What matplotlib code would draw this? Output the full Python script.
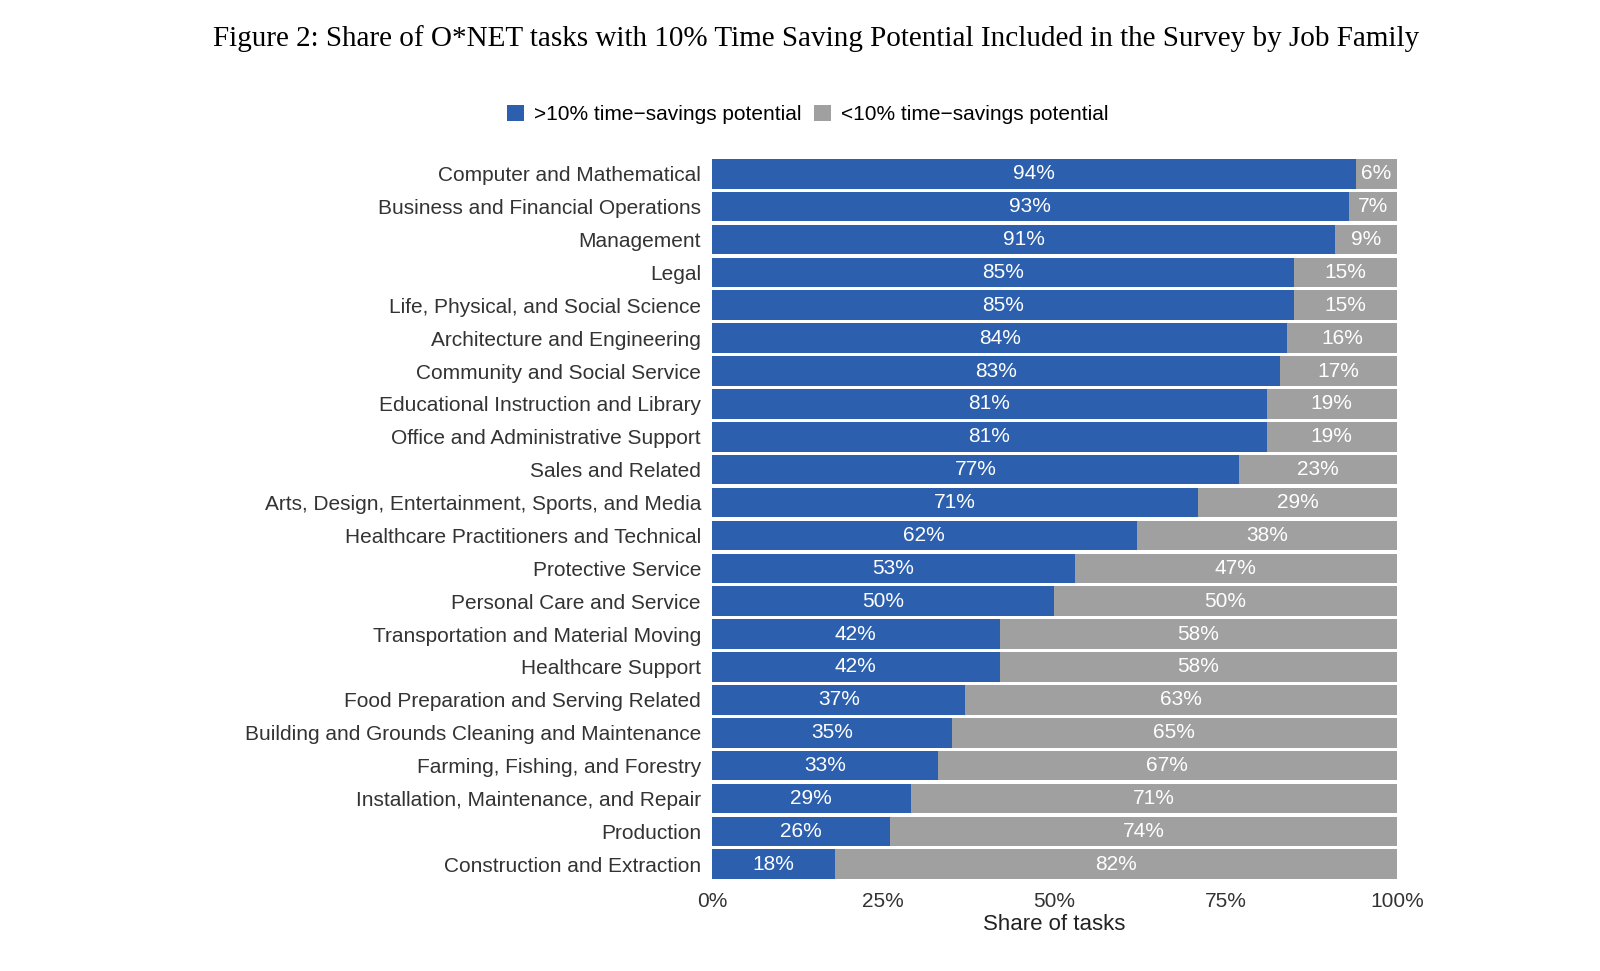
import matplotlib
matplotlib.use("Agg")
import matplotlib.pyplot as plt

categories = ["Computer and Mathematical","Business and Financial Operations","Management","Legal",
"Life, Physical, and Social Science","Architecture and Engineering","Community and Social Service",
"Educational Instruction and Library","Office and Administrative Support","Sales and Related",
"Arts, Design, Entertainment, Sports, and Media","Healthcare Practitioners and Technical",
"Protective Service","Personal Care and Service","Transportation and Material Moving",
"Healthcare Support","Food Preparation and Serving Related","Building and Grounds Cleaning and Maintenance",
"Farming, Fishing, and Forestry","Installation, Maintenance, and Repair","Production","Construction and Extraction"]
high = [94,93,91,85,85,84,83,81,81,77,71,62,53,50,42,42,37,35,33,29,26,18]
low = [100-v for v in high]
xticks = [0,25,50,75,100]
xticklabels = ["0%","25%","50%","75%","100%"]

plt.rcParams['font.family'] = ['Liberation Sans','DejaVu Sans']
fig = plt.figure(figsize=(16,9.71), dpi=100)
ax = fig.add_axes([0.445,0.093,0.428,0.745])
blue = "#2c5fad"; grey = "#a0a0a0"
y = list(range(len(categories)))
ax.barh(y, high, height=0.9, color=blue, label=">10% time\u2212savings potential")
ax.barh(y, low, left=high, height=0.9, color=grey, label="<10% time\u2212savings potential")
for i,(h,l) in enumerate(zip(high,low)):
    ax.text(h/2, i, f"{h}%", color="white", ha="center", va="center", fontsize=15)
    ax.text(h+l/2, i, f"{l}%", color="white", ha="center", va="center", fontsize=15)
ax.set_ylim(len(categories)-0.5, -0.5)
ax.set_xlim(0,100)
ax.set_yticks(y); ax.set_yticklabels(categories, fontsize=15, color="#333333")
ax.set_xticks(xticks); ax.set_xticklabels(xticklabels, fontsize=15, color="#333333")
ax.tick_params(length=0, pad=8)
for s in ax.spines.values(): s.set_visible(False)
ax.set_xlabel("Share of tasks", fontsize=16, color="#222222", labelpad=2)
ax.legend(loc="lower center", bbox_to_anchor=(0.14,1.02), ncol=2, frameon=False, fontsize=15,
          handlelength=0.8, handleheight=0.8, columnspacing=0.6, handletextpad=0.5)
fig.text(0.51,0.96,"Figure 2: Share of O*NET tasks with 10% Time Saving Potential Included in the Survey by Job Family",
         ha="center", va="center", fontsize=21, family="Liberation Serif")
fig.savefig("out.png")
